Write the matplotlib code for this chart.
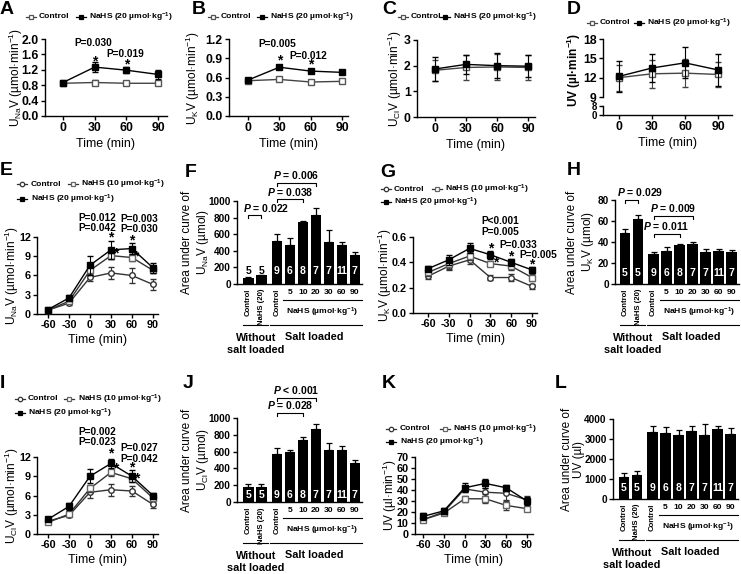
import numpy as np
import matplotlib
matplotlib.use('Agg')
import matplotlib.pyplot as plt
import matplotlib.transforms as mtransforms
from matplotlib.lines import Line2D

plt.rcParams['font.family'] = ['Liberation Sans', 'DejaVu Sans']
plt.rcParams['font.weight'] = 'bold'
plt.rcParams['axes.unicode_minus'] = False
plt.rcParams['mathtext.fontset'] = 'custom'
plt.rcParams['mathtext.rm'] = 'Liberation Sans:bold'
plt.rcParams['mathtext.it'] = 'Liberation Sans:bold:italic'
plt.rcParams['mathtext.bf'] = 'Liberation Sans:bold'

W, H = 741, 574
fig = plt.figure(figsize=(W / 100, H / 100), dpi=100)

# ------------------------------------------------------------------ data
t4 = [0, 30, 60, 90]
t6 = [-60, -30, 0, 30, 60, 90]

A_ctrl = [0.85, 0.87, 0.85, 0.85]; A_ctrl_e = [0.05, 0.06, 0.04, 0.05]
A_n20 = [0.87, 1.27, 1.19, 1.08];  A_n20_e = [0.05, 0.12, 0.08, 0.12]

B_ctrl = [0.55, 0.57, 0.53, 0.54]; B_ctrl_e = [0.03, 0.02, 0.02, 0.03]
B_n20 = [0.56, 0.76, 0.70, 0.68];  B_n20_e = [0.03, 0.03, 0.03, 0.03]

C_ctrl = [1.82, 1.93, 1.95, 1.93]; C_ctrl_e = [0.42, 0.50, 0.50, 0.47]
C_n20 = [1.87, 2.05, 2.00, 1.98];  C_n20_e = [0.45, 0.38, 0.48, 0.42]

D_ctrl = [12.0, 12.6, 12.7, 12.5]; D_ctrl_e = [2.0, 2.2, 2.2, 2.0]
D_n20 = [12.2, 13.5, 14.3, 13.2];  D_n20_e = [2.4, 2.2, 2.4, 2.5]

E_ctrl = [0.6, 1.7, 5.7, 6.4, 6.0, 4.6];  E_ctrl_e = [0.1, 0.3, 0.6, 0.9, 1.1, 0.9]
E_n10 = [0.6, 2.0, 6.8, 9.1, 8.8, 6.8];   E_n10_e = [0.1, 0.3, 0.8, 0.5, 0.6, 0.4]
E_n20 = [0.7, 2.5, 7.6, 10.0, 10.2, 7.2]; E_n20_e = [0.1, 0.4, 1.5, 1.4, 0.8, 0.8]

G_ctrl = [0.29, 0.37, 0.42, 0.28, 0.28, 0.21]; G_ctrl_e = [0.02, 0.03, 0.03, 0.02, 0.03, 0.02]
G_n10 = [0.32, 0.39, 0.45, 0.39, 0.37, 0.28];  G_n10_e = [0.03, 0.04, 0.03, 0.02, 0.03, 0.03]
G_n20 = [0.35, 0.42, 0.51, 0.46, 0.40, 0.34];  G_n20_e = [0.02, 0.04, 0.04, 0.03, 0.03, 0.02]

I_ctrl = [2.0, 2.9, 6.5, 6.9, 6.7, 4.6];  I_ctrl_e = [0.3, 0.3, 0.9, 0.9, 0.8, 0.6]
I_n10 = [1.8, 3.1, 7.1, 9.6, 8.6, 5.6];   I_n10_e = [0.2, 0.3, 0.6, 0.5, 0.4, 0.4]
I_n20 = [2.3, 4.3, 9.0, 11.0, 9.0, 6.0];  I_n20_e = [0.3, 0.6, 1.1, 0.7, 0.9, 0.4]

K_ctrl = [13, 20, 41, 38, 37, 31]; K_ctrl_e = [1.5, 2, 3, 4, 6, 4]
K_n10 = [13, 19, 32, 32, 26, 23];  K_n10_e = [1.5, 1.5, 3, 4, 4, 2]
K_n20 = [16, 21, 42, 46, 42, 30];  K_n20_e = [3, 3, 4, 4, 3, 4]

bar_groups = ['Control', 'NaHS (20)', 'Control', '5', '10', '20', '30', '60', '90']
F_vals = [75, 105, 520, 470, 745, 830, 510, 465, 345]
F_errs = [5, 8, 80, 85, 15, 90, 135, 45, 45]
H_vals = [49, 62, 29, 31, 37, 38, 30, 31, 30]
H_errs = [3.5, 3.5, 1.5, 4, 1.5, 2, 3.5, 2, 2.5]
J_vals = [175, 180, 570, 595, 740, 875, 625, 620, 460]
J_errs = [45, 30, 70, 20, 35, 55, 80, 45, 35]
L_vals = [1120, 1220, 3330, 3280, 3210, 3400, 3200, 3490, 3250]
L_errs = [180, 200, 320, 330, 230, 250, 550, 150, 300]
n_animals = [5, 5, 9, 6, 8, 7, 7, 11, 7]

# ------------------------------------------------------------------ helpers
XLAB_FS = 9.0
YLAB_FS = 8.6


def add_ax(left, top, right, bottom):
    ax = fig.add_axes([left / W, 1 - bottom / H, (right - left) / W, (bottom - top) / H])
    ax._box = (left, top, right, bottom)
    return ax


def xlim_from(left, right, v0, p0, v1, p1):
    s = (p1 - p0) / (v1 - v0)
    return (v0 - (p0 - left) / s, v1 + (right - p1) / s)


def style(ax, fs):
    ax.spines['top'].set_visible(False)
    ax.spines['right'].set_visible(False)
    ax.spines['left'].set_linewidth(1)
    ax.spines['bottom'].set_linewidth(1)
    ax.tick_params(direction='out', length=3, width=1, labelsize=fs, pad=1.5)


def ylab(ax, s, xc, fs=YLAB_FS, yfrac=0.5):
    left, top, right, bottom = ax._box
    ax.set_ylabel(s, fontsize=fs, va='center', ha='center', linespacing=1.1)
    ax.yaxis.set_label_coords((xc - left) / (right - left), yfrac)


STY = {
    'ctrl_sq': dict(marker='s', mfc='white', mec='#555555', color='#444444'),
    'ctrl_ci': dict(marker='o', mfc='white', mec='#333333', color='#333333'),
    'n10': dict(marker='s', mfc='white', mec='#666666', color='#333333'),
    'n20': dict(marker='s', mfc='black', mec='black', color='black'),
}


def series(ax, x, y, e, kind, z):
    s = STY[kind]
    ax.errorbar(x, y, yerr=e, marker=s['marker'], mfc=s['mfc'], mec=s['mec'], color=s['color'],
                ecolor=s['color'], ms=4, mew=1, lw=1, elinewidth=0.8, capsize=2.2, capthick=0.8,
                clip_on=False, zorder=z)


def leg_item(xm, y, kind, label, xt):
    s = STY[kind]
    yf = 1 - y / H
    fig.add_artist(Line2D([(xm - 5) / W, (xm + 5) / W], [yf, yf], transform=fig.transFigure,
                          color=s['color'], lw=0.9))
    fig.add_artist(Line2D([xm / W], [yf], transform=fig.transFigure, ls='none', marker=s['marker'],
                          mfc=s['mfc'], mec=s['mec'], ms=3.2, mew=0.9))
    fig.text(xt / W, yf, label, ha='left', va='center', fontsize=6.1)


def panel_letter(x, y, s):
    fig.text(x / W, 1 - y / H, s, ha='left', va='top', fontsize=14)


def star(ax, x, y):
    ax.text(x, y, '*', ha='center', va='center', fontsize=10, clip_on=False)


def ptext(ax, x, y, s, ha='center'):
    ax.text(x, y, s, ha=ha, va='center', fontsize=7.3, clip_on=False)


N20 = 'NaHS (20 µmol·kg$^\\mathregular{-1}$)'
N10 = 'NaHS (10 µmol·kg$^\\mathregular{-1}$)'
RATE = ' (µmol·min$^\\mathregular{-1}$)'

# ------------------------------------------------------------------ row 1
ROW1_FS = 8.8


def top_panel(box, ticks_px, ctrl, ce, n20, ne, ylim, yticks, ylabel, ylab_x, fmt):
    left, top, right, bottom = box
    ax = add_ax(left, top, right, bottom)
    style(ax, ROW1_FS)
    series(ax, t4, ctrl, ce, 'ctrl_sq', 3)
    series(ax, t4, n20, ne, 'n20', 4)
    ax.set_xlim(*xlim_from(left, right, 0, ticks_px[0], 90, ticks_px[1]))
    ax.set_ylim(*ylim)
    ax.set_xticks(t4)
    ax.set_yticks(yticks)
    ax.set_yticklabels([fmt.format(v) for v in yticks])
    ax.set_xlabel('Time (min)', fontsize=XLAB_FS, labelpad=3)
    ylab(ax, ylabel, ylab_x)
    return ax

axA = top_panel((45, 39, 167, 116), (63, 158), A_ctrl, A_ctrl_e, A_n20, A_n20_e, (0, 2.0),
                [0, 0.4, 0.8, 1.2, 1.6, 2.0], 'U$_\\mathregular{Na}$V' + RATE, 16, '{:.1f}')
star(axA, 30, 1.42); star(axA, 60, 1.35)
ptext(axA, 29, 1.9, 'P=0.030'); ptext(axA, 59, 1.6, 'P=0.019')

axB = top_panel((229, 39, 348, 116), (248, 342), B_ctrl, B_ctrl_e, B_n20, B_n20_e, (0, 1.2),
                [0, 0.3, 0.6, 0.9, 1.2], 'U$_\\mathregular{K}$V' + RATE, 193, '{:.1f}')
star(axB, 30, 0.86); star(axB, 60, 0.80)
ptext(axB, 28, 1.12, 'P=0.005'); ptext(axB, 58, 0.94, 'P=0.012')

axC = top_panel((417, 40, 535, 117), (435, 528), C_ctrl, C_ctrl_e, C_n20, C_n20_e, (0, 3),
                [0, 1, 2, 3], 'U$_\\mathregular{Cl}$V' + RATE, 395, '{:d}')

# D: broken y axis
dl, dr = 603, 732
dxl = xlim_from(dl, dr, 0, 619, 90, 718)
axD = add_ax(dl, 39, dr, 97)
style(axD, ROW1_FS)
axD.spines['bottom'].set_visible(False)
axD.tick_params(axis='x', bottom=False, labelbottom=False)
series(axD, t4, D_ctrl, D_ctrl_e, 'ctrl_sq', 3)
series(axD, t4, D_n20, D_n20_e, 'n20', 4)
axD.set_xlim(*dxl)
axD.set_ylim(9, 18)
axD.set_yticks([9, 12, 15, 18])
axD2 = add_ax(dl, 106, dr, 115)
style(axD2, ROW1_FS)
axD2.tick_params(axis='y', labelsize=7.0)
axD2.set_xlim(*dxl)
axD2.set_ylim(0, 8)
axD2.set_yticks([0, 8])
axD2.set_xticks(t4)
axD2.set_xlabel('Time (min)', fontsize=XLAB_FS, labelpad=3)
fig.text(574 / W, 1 - 70 / H, 'UV (µl·min$^\\mathregular{-1}$)', rotation=90, ha='center', va='center',
         fontsize=YLAB_FS)

# legends row 1
leg_item(31, 17, 'ctrl_sq', 'Control', 39); leg_item(81, 17, 'n20', N20, 89)
leg_item(213, 17, 'ctrl_sq', 'Control', 221); leg_item(262, 17, 'n20', N20, 270)
leg_item(403, 17, 'ctrl_sq', 'Control', 411); leg_item(445, 17, 'n20', N20, 453)
leg_item(592, 23, 'ctrl_sq', 'Control', 600); leg_item(639, 23, 'n20', N20, 647)

# ------------------------------------------------------------------ time-course panels with 3 groups
TC_FS = 7.8


def tc_panel(box, ticks_px, c, ce, a, ae, b, be, ylim, yticks, ylabel, ylab_x, fmt='{:d}'):
    left, top, right, bottom = box
    ax = add_ax(left, top, right, bottom)
    style(ax, TC_FS)
    series(ax, t6, c, ce, 'ctrl_ci', 3)
    series(ax, t6, a, ae, 'n10', 4)
    series(ax, t6, b, be, 'n20', 5)
    ax.set_xlim(*xlim_from(left, right, -60, ticks_px[0], 90, ticks_px[1]))
    ax.set_ylim(*ylim)
    ax.set_xticks(t6)
    ax.set_yticks(yticks)
    ax.set_yticklabels([fmt.format(v) for v in yticks])
    ax.set_xlabel('Time (min)', fontsize=XLAB_FS, labelpad=3)
    ylab(ax, ylabel, ylab_x)
    return ax

axE = tc_panel((37, 237, 158, 314), (48, 153), E_ctrl, E_ctrl_e, E_n10, E_n10_e, E_n20, E_n20_e,
               (0, 12), [0, 3, 6, 9, 12], 'U$_\\mathregular{Na}$V' + RATE, 12)
star(axE, 30, 11.9); star(axE, 60, 11.5); star(axE, 37, 9.4); star(axE, 66, 8.9)
ptext(axE, 10, 15.0, 'P=0.012'); ptext(axE, 10, 13.4, 'P=0.042')
ptext(axE, 71, 14.8, 'P=0.003'); ptext(axE, 71, 13.3, 'P=0.030')

axG = tc_panel((413, 237, 537, 313), (428, 532), G_ctrl, G_ctrl_e, G_n10, G_n10_e, G_n20, G_n20_e,
               (0, 0.6), [0, 0.2, 0.4, 0.6], 'U$_\\mathregular{K}$V' + RATE, 385, '{:.1f}')
star(axG, 30, 0.51); star(axG, 37, 0.40); star(axG, 60, 0.45); star(axG, 90, 0.38)
ptext(axG, 17, 0.726, 'P<0.001', ha='left'); ptext(axG, 17, 0.64, 'P=0.005', ha='left')
ptext(axG, 70, 0.54, 'P=0.033'); ptext(axG, 99, 0.455, 'P=0.005')

axI = tc_panel((37, 457, 158, 534), (48, 153), I_ctrl, I_ctrl_e, I_n10, I_n10_e, I_n20, I_n20_e,
               (0, 12), [0, 3, 6, 9, 12], 'U$_\\mathregular{Cl}$V' + RATE, 12)
star(axI, 30, 12.6); star(axI, 37, 10.2); star(axI, 60, 10.3); star(axI, 67, 8.7)
ptext(axI, 11, 15.9, 'P=0.002'); ptext(axI, 11, 14.3, 'P=0.023')
ptext(axI, 71, 13.4, 'P=0.027'); ptext(axI, 71, 11.7, 'P=0.042')

axK = tc_panel((415, 457, 533, 534), (423, 527), K_ctrl, K_ctrl_e, K_n10, K_n10_e, K_n20, K_n20_e,
               (0, 70), [0, 10, 20, 30, 40, 50, 60, 70], 'UV (µl·min$^\\mathregular{-1}$)', 390)

# legends rows 2/3
for (xm, y1, y2, xt1, xm2, xt2) in [(22, 184, 199, 31, 73, 81), (386, 189, 202, 394, 437, 445),
                                     (20, 399, 413, 28, 69, 78), (391, 429, 442, 400, 445, 453)]:
    leg_item(xm, y1, 'ctrl_ci', 'Control', xt1)
    leg_item(xm2, y1, 'n10', N10, xt2)
    leg_item(xm, y2, 'n20', N20, xt1)

# ------------------------------------------------------------------ bar panels
pos = [0, 1, 2.2, 3.2, 4.2, 5.2, 6.2, 7.2, 8.2]
SP = 13.0  # px per position unit
BAR_FS = 7.2


def below(ax, dy):
    return (mtransforms.blended_transform_factory(ax.transData, ax.transAxes)
            + mtransforms.ScaledTranslation(0, -dy / 100, fig.dpi_scale_trans))


def bar_panel(left, top, bottom, bx0, vals, errs, ymax, yticks, ylabel, ylab_x, n_up, black_n=()):
    right = bx0 + 8.75 * SP
    ax = add_ax(left, top, right, bottom)
    style(ax, BAR_FS)
    ax.bar(pos, vals, width=0.8, color='black', zorder=2)
    ax.errorbar(pos, vals, yerr=[np.zeros(len(vals)), errs], fmt='none', ecolor='black',
                elinewidth=0.9, capsize=2.2, capthick=0.9, zorder=1, clip_on=False)
    ax.set_xlim((left - bx0) / SP, 8.75)
    ax.set_ylim(0, ymax)
    ax.set_yticks(yticks)
    ax.set_xticks([])
    ylab(ax, ylabel, ylab_x, fs=8.5)
    up = (mtransforms.blended_transform_factory(ax.transData, ax.transAxes)
          + mtransforms.ScaledTranslation(0, n_up / 100, fig.dpi_scale_trans))
    for i, (p, n) in enumerate(zip(pos, n_animals)):
        ax.text(p, 0, str(n), transform=up, ha='center', va='center', fontsize=7.5,
                color='black' if i in black_n else 'white', zorder=3)
    for p, s in zip(pos[:3], bar_groups[:3]):
        ax.text(p, 0, s, transform=below(ax, 5), rotation=90, ha='center', va='top', fontsize=5.6)
    for p, s in zip(pos[3:], bar_groups[3:]):
        ax.text(p, 0, s, transform=below(ax, 5), ha='center', va='top', fontsize=6.1)
    ax.plot([2.7, 8.75], [0, 0], transform=below(ax, 16), color='black', lw=0.8, clip_on=False)
    ax.text(5.7, 0, 'NaHS (µmol·kg$^\\mathregular{-1}$)', transform=below(ax, 28), ha='center',
            va='center', fontsize=6.1)
    ax.plot([-0.4, 1.5], [0, 0], transform=below(ax, 41), color='black', lw=0.8, clip_on=False)
    ax.plot([1.67, 8.75], [0, 0], transform=below(ax, 41), color='black', lw=0.8, clip_on=False)
    ax.text(0.6, 0, 'Without\nsalt loaded', transform=below(ax, 49), ha='center', va='top',
            fontsize=7.8, linespacing=1.2)
    ax.text(5.1, 0, 'Salt loaded', transform=below(ax, 53), ha='center', va='center', fontsize=7.8)
    return ax


def bracket(ax, i1, i2, y, s, tx=None, ha='center'):
    left, top, right, bottom = ax._box
    d = 3 * ax.get_ylim()[1] / (bottom - top)
    x1, x2 = pos[i1], pos[i2]
    ax.plot([x1, x1, x2, x2], [y - d, y, y, y - d], color='black', lw=0.8, clip_on=False)
    if tx is None:
        tx = (x1 + x2) / 2
    ax.text(tx, y + d * 0.5, s, ha=ha, va='bottom', fontsize=7.5, clip_on=False)


axF = bar_panel(237, 201, 284, 248.3, F_vals, F_errs, 1000, [0, 200, 400, 600, 800, 1000],
                'Area under curve of\nU$_\\mathregular{Na}$V (µmol)', 196, 13, black_n=(0, 1))
bracket(axF, 0, 1, 830, '$P$ = 0.022', tx=-0.4, ha='left')
bracket(axF, 2, 4, 1024, '$P$ = 0.038')
bracket(axF, 2, 5, 1217, '$P$ = 0.006')

axH = bar_panel(615, 200, 284, 625, H_vals, H_errs, 80, [0, 20, 40, 60, 80],
                'Area under curve of\nU$_\\mathregular{K}$V (µmol)', 581, 11)
bracket(axH, 0, 1, 80, '$P$ = 0.029', tx=-0.6, ha='left')
bracket(axH, 2, 5, 65, '$P$ = 0.009')
bracket(axH, 2, 4, 48, '$P$ = 0.011')

axJ = bar_panel(237, 418, 502, 248.3, J_vals, J_errs, 1000, [0, 200, 400, 600, 800, 1000],
                'Area under curve of\nU$_\\mathregular{Cl}$V (µmol)', 196, 7)
bracket(axJ, 2, 4, 1060, '$P$ = 0.028')
bracket(axJ, 2, 5, 1240, '$P$ < 0.001')

axL = bar_panel(613, 419, 499, 624, L_vals, L_errs, 4000, [0, 1000, 2000, 3000, 4000],
                'Area under curve of\nUV (µl)', 573, 11)

# ------------------------------------------------------------------ panel letters
for x, y, s in [(0, 1, 'A'), (192, 1, 'B'), (382, 1, 'C'), (567, 1, 'D'),
                (0, 162, 'E'), (185, 164, 'F'), (380, 164, 'G'), (567, 162, 'H'),
                (0, 375, 'I'), (183, 375, 'J'), (382, 375, 'K'), (555, 375, 'L')]:
    panel_letter(x, y, s)

fig.savefig('out.png', dpi=100)
